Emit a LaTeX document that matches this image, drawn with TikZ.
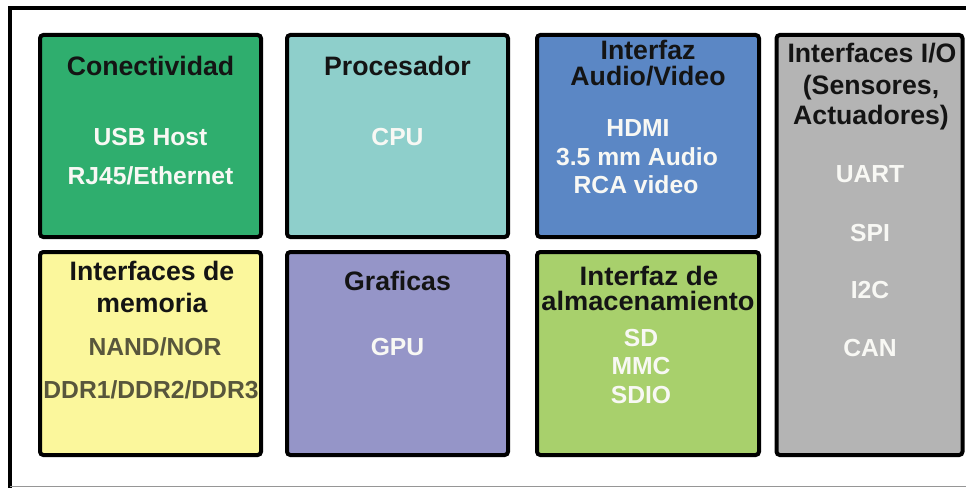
\documentclass[tikz,border=0pt]{standalone}
\usepackage{fontspec}
\setmainfont{Liberation Sans}

\definecolor{conecFill}{RGB}{47,174,110}
\definecolor{procFill}{RGB}{142,207,203}
\definecolor{avFill}{RGB}{91,135,197}
\definecolor{ioFill}{RGB}{180,180,180}
\definecolor{memFill}{RGB}{251,247,156}
\definecolor{gpuFill}{RGB}{149,149,200}
\definecolor{almFill}{RGB}{168,208,108}
\definecolor{titleText}{RGB}{20,20,20}
\definecolor{memText}{RGB}{88,86,60}
\definecolor{itemText}{RGB}{248,248,244}

\tikzset{
  blk/.style={draw=black, line width=3pt, rounded corners=2.5pt, inner sep=0pt},
  ttl/.style={anchor=base, inner sep=0pt, text=titleText, font=\bfseries\fontsize{20}{24}\selectfont},
  itm/.style={anchor=base, inner sep=0pt, text=itemText, font=\bfseries\fontsize{18.5}{22}\selectfont},
}

\begin{document}
\begin{tikzpicture}[x=0.75pt,y=0.75pt,yscale=-1,xscale=1]
\useasboundingbox (0,0) rectangle (966,488);

%Frame
\draw [line width=3pt] (10,490) -- (10,8) -- (968,8) ;
\draw [color={rgb, 255:red, 150; green, 150; blue, 150}, line width=1pt] (10,486.5) -- (966,486.5) ;

%Blocks
\node [blk, fill=conecFill, minimum width=221*0.75pt, minimum height=202*0.75pt] (conec) at (150.5,136) {};
\node [blk, fill=procFill, minimum width=221*0.75pt, minimum height=202*0.75pt] (proc) at (397.5,136) {};
\node [blk, fill=avFill, minimum width=222*0.75pt, minimum height=202*0.75pt] (av) at (648,136) {};
\node [blk, fill=ioFill, minimum width=186*0.75pt, minimum height=420*0.75pt] (io) at (869.5,245) {};
\node [blk, fill=memFill, minimum width=221*0.75pt, minimum height=203*0.75pt] (mem) at (150.5,353.5) {};
\node [blk, fill=gpuFill, minimum width=221*0.75pt, minimum height=203*0.75pt] (gpu) at (397.5,353.5) {};
\node [blk, fill=almFill, minimum width=222*0.75pt, minimum height=203*0.75pt] (alm) at (648,353.5) {};

% Conectividad
\node [ttl] (conecT) at (150.5,76) {Conectividad};
\node [itm] (usb) at (150.5,146) {USB Host};
\node [itm] (rj45) at (150.5,185) {RJ45/Ethernet};

% Procesador
\node [ttl] (procT) at (397.5,76) {Procesador};
\node [itm] (cpu) at (397.5,146) {CPU};

% Audio/Video
\node [ttl] (avT) at (648,60) {Interfaz};
\node [ttl] (avT2) at (648,86) {Audio/Video};
\node [itm] (hdmi) at (638,137) {HDMI};
\node [itm] (jack) at (637,166) {3.5 mm Audio};
\node [itm] (rca) at (636,194) {RCA video};

% I/O
\node [ttl] (ioT) at (872,63) {Interfaces I/O};
\node [ttl] (ioT2) at (871,95) {(Sensores,};
\node [ttl] (ioT3) at (871,125) {Actuadores)};
\node [itm] (uart) at (870,183) {UART};
\node [itm] (spi) at (870,241) {SPI};
\node [itm] (iic) at (870,298) {I2C};
\node [itm] (can) at (870,356) {CAN};

% Memoria
\node [ttl] (memT) at (152,280) {Interfaces de};
\node [ttl] (memT2) at (152,312) {memoria};
\node [itm, text=memText] (nand) at (155,355) {NAND/NOR};
\node [itm, text=memText] (ddr) at (151,398) {DDR1/DDR2/DDR3};

% Graficas
\node [ttl] (gpuT) at (397.5,290) {Graficas};
\node [itm] (gpuI) at (397.5,355) {GPU};

% Almacenamiento
\node [ttl] (almT) at (649,285) {\scalebox{1.04}[1]{Interfaz de}};
\node [ttl] (almT2) at (648,310) {\scalebox{1.02}[1]{almacenamiento}};
\node [itm] (sd) at (641,346) {SD};
\node [itm] (mmc) at (641,374) {MMC};
\node [itm] (sdio) at (641,403) {SDIO};

\end{tikzpicture}
\end{document}
